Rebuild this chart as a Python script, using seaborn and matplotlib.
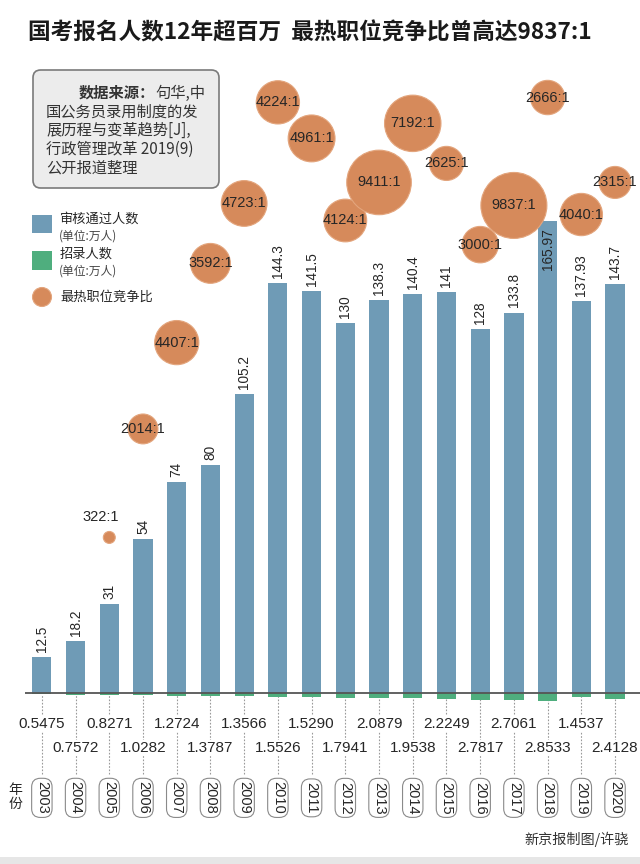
import matplotlib
matplotlib.use("Agg")
import matplotlib.pyplot as plt
import seaborn as sns
from matplotlib.patches import FancyBboxPatch, Rectangle, Ellipse

# ---------------- data ----------------
years = [2003, 2004, 2005, 2006, 2007, 2008, 2009, 2010, 2011,
         2012, 2013, 2014, 2015, 2016, 2017, 2018, 2019, 2020]
applicants = [12.5, 18.2, 31, 54, 74, 80, 105.2, 144.3, 141.5,
              130, 138.3, 140.4, 141, 128, 133.8, 165.97, 137.93, 143.7]
recruits = [0.5475, 0.7572, 0.8271, 1.0282, 1.2724, 1.3787, 1.3566, 1.5526, 1.5290,
            1.7941, 2.0879, 1.9538, 2.2249, 2.7817, 2.7061, 2.8533, 1.4537, 2.4128]
hot_years = [2005, 2006, 2007, 2008, 2009, 2010, 2011, 2012,
             2013, 2014, 2015, 2016, 2017, 2018, 2019, 2020]
hot_ratio = [322, 2014, 4407, 3592, 4723, 4224, 4961, 4124,
             9411, 7192, 2625, 3000, 9837, 2666, 4040, 2315]

title = "国考报名人数12年超百万  最热职位竞争比曾高达9837:1"
legend_labels = ["审核通过人数", "招录人数", "最热职位竞争比"]
unit_label = "(单位:万人)"
source_lines = ["国公务员录用制度的发", "展历程与变革趋势[J],",
                "行政管理改革 2019(9)", "公开报道整理"]
credit = "新京报制图/许骁"

# ---------------- layout (bubble placement in chart units) ----------------
bubble_y = [54.6, 92.8, 123.2, 151.1, 172.2, 207.8, 195.1, 166.2,
            179.6, 200.4, 186.3, 157.7, 171.5, 209.5, 168.3, 179.6]

BLUE = "#6f9bb6"
GREEN = "#4fae7e"
ORANGE = "#d68a5b"
TXT = "#262626"
CJK = ["Noto Sans CJK SC", "DejaVu Sans"]

sns.set_theme(style="white")
plt.rcParams["font.family"] = ["Liberation Sans", "Noto Sans CJK SC", "DejaVu Sans"]

W, H = 640, 864
fig = plt.figure(figsize=(W / 100, H / 100), dpi=100)
fig.patch.set_facecolor("white")


def fx(x):
    return x / W


def fy(y):
    return 1 - y / H


ax = fig.add_axes([fx(25), fy(834.5), 615 / W, 781 / H])
ax.set_facecolor("none")

sns.barplot(x=years, y=applicants, native_scale=True, color=BLUE, saturation=1,
            width=0.57, linewidth=0, ax=ax, zorder=2)
sns.barplot(x=years, y=[-r for r in recruits], native_scale=True, color=GREEN,
            saturation=1, width=0.57, linewidth=0, ax=ax, zorder=2)

sns.scatterplot(x=hot_years, y=bubble_y, size=hot_ratio, sizes=(0, 2258),
                size_norm=(0, 9837), color=ORANGE, edgecolor="#e3a57d",
                linewidth=0.8, alpha=1, legend=False, ax=ax, zorder=4)

ax.set_xlim(2002.5, 2020.74)
ax.set_ylim(-50, 225)
ax.axhline(0, color="#555555", lw=1.3, zorder=3)
for s in ax.spines.values():
    s.set_visible(False)
ax.set_xticks([])
ax.set_yticks([])
ax.set_xlabel("")
ax.set_ylabel("")

# bar value labels
for yr, v in zip(years, applicants):
    if yr == 2018:
        ax.text(yr, v - 2.5, f"{v:g}", rotation=90, ha="center", va="top",
                fontsize=9.8, color=TXT, zorder=5)
    else:
        ax.text(yr, v + 1.8, f"{v:g}", rotation=90, ha="center", va="bottom",
                fontsize=9.8, color=TXT, zorder=5)

# bubble labels
for yr, yy, r in zip(hot_years, bubble_y, hot_ratio):
    if r == 322:
        ax.text(yr - 0.25, yy + 7.2, f"{r}:1", ha="center", va="center",
                fontsize=10.5, color=TXT, zorder=6)
    else:
        ax.text(yr, yy, f"{r}:1", ha="center", va="center",
                fontsize=10.5, color=TXT, zorder=6)

# recruit numbers, dashed guides, year tags
ax.vlines(years, -28.7, -1, colors="#9a9a9a", linestyles=(0, (1.5, 1.5)), lw=0.8, zorder=1)
for i, (yr, r) in enumerate(zip(years, recruits)):
    ty = -11.1 if i % 2 == 0 else -19.5
    ax.text(yr, ty, f"{r:.4f}", ha="center", va="center", fontsize=11,
            color=TXT, zorder=5,
            bbox=dict(boxstyle="square,pad=0.05", fc="white", ec="none"))
    ax.text(yr, -37.1, str(yr), rotation=270, ha="center", va="center",
            fontsize=10.5, color=TXT, zorder=5,
            bbox=dict(boxstyle="round,pad=0.22,rounding_size=0.6", fc="white",
                      ec="#8a8a8a", lw=0.8))

# title
fig.text(fx(28), fy(33), title, fontsize=16.3, fontweight="bold", family=CJK,
         color="#1a1a1a", ha="left", va="center")

# source box
fig.add_artist(FancyBboxPatch((fx(33), fy(188)), 186 / W, 118 / H,
                              boxstyle="round,pad=0,rounding_size=0.012",
                              transform=fig.transFigure, fc="#ececec",
                              ec="#7a7a7a", lw=1.2, mutation_aspect=W / H))
fig.text(fx(79), fy(93), "数据来源：", fontsize=11, fontweight="bold",
         family=CJK, color="#333333", ha="left", va="center")
fig.text(fx(155), fy(93), "句华,中", fontsize=11, family=CJK,
         color="#333333", ha="left", va="center")
for k, line in enumerate(source_lines):
    fig.text(fx(46), fy(112 + 18.7 * k), line, fontsize=11, family=CJK,
             color="#333333", ha="left", va="center")

# legend
fig.add_artist(Rectangle((fx(32), fy(233)), 20 / W, 18 / H, transform=fig.transFigure,
                         fc=BLUE, ec="none"))
fig.add_artist(Rectangle((fx(32), fy(270)), 20 / W, 19 / H, transform=fig.transFigure,
                         fc=GREEN, ec="none"))
fig.add_artist(Ellipse((fx(42), fy(297)), 19 / W, 19 / H, transform=fig.transFigure,
                       fc=ORANGE, ec="#e3a57d", lw=0.8))
fig.text(fx(60), fy(219), legend_labels[0], fontsize=9.5, family=CJK, color=TXT,
         ha="left", va="center")
fig.text(fx(59), fy(236), unit_label, fontsize=8.5, family=CJK, color="#444444",
         ha="left", va="center")
fig.text(fx(60), fy(254), legend_labels[1], fontsize=9.5, family=CJK, color=TXT,
         ha="left", va="center")
fig.text(fx(59), fy(271), unit_label, fontsize=8.5, family=CJK, color="#444444",
         ha="left", va="center")
fig.text(fx(60), fy(297), legend_labels[2], fontsize=9.5, family=CJK, color=TXT,
         ha="left", va="center")

# year caption and credit
fig.text(fx(15), fy(797), "年\n份", fontsize=10, family=CJK, color=TXT,
         ha="center", va="center", linespacing=1.05)
fig.text(fx(629), fy(839), credit, fontsize=10.2, family=CJK, color="#333333",
         ha="right", va="center")

# bottom grey strip
fig.add_artist(Rectangle((0, 0), 1, 7 / H, transform=fig.transFigure,
                         fc="#e6e6e6", ec="none"))

fig.savefig("out.png", dpi=100)
